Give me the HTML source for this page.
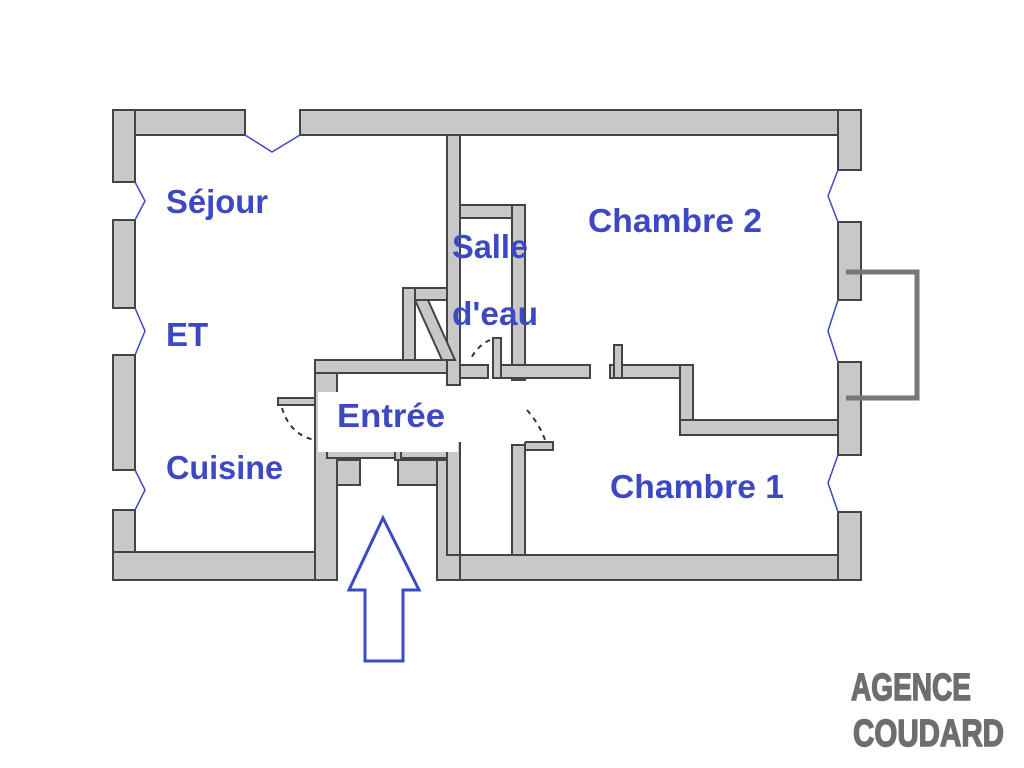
<!DOCTYPE html>
<html><head><meta charset="utf-8"><style>
html,body{margin:0;padding:0;background:#fff;width:1024px;height:768px;overflow:hidden}
svg{display:block}
.w{fill:#c8c8c8;stroke:#444;stroke-width:2}
.l{font-family:"Liberation Sans",sans-serif;font-weight:bold;fill:#3d48c4;font-size:33px}
.g{font-family:"Liberation Sans",sans-serif;font-weight:bold;fill:#6e6e6e;font-size:38px;stroke:#6e6e6e;stroke-width:1.5}
.a{fill:none;stroke:#3d48c4;stroke-width:1.5}
</style></head><body>
<svg width="1024" height="768" viewBox="0 0 1024 768">
<!-- outer walls -->
<rect class="w" x="113" y="110" width="132" height="25"/>
<rect class="w" x="300" y="110" width="561" height="25"/>
<rect class="w" x="113" y="110" width="22" height="72"/>
<rect class="w" x="113" y="220" width="22" height="88"/>
<rect class="w" x="113" y="355" width="22" height="115"/>
<rect class="w" x="113" y="510" width="22" height="70"/>
<rect class="w" x="113" y="552" width="224" height="28"/>
<rect class="w" x="315" y="360" width="22" height="220"/>
<rect class="w" x="437" y="555" width="424" height="25"/>
<rect class="w" x="437" y="460" width="23" height="120"/>
<rect class="w" x="337" y="460" width="23" height="25"/>
<rect class="w" x="398" y="460" width="39" height="25"/>
<rect class="w" x="838" y="110" width="23" height="60"/>
<rect class="w" x="838" y="222" width="23" height="78"/>
<rect class="w" x="838" y="362" width="23" height="93"/>
<rect class="w" x="838" y="512" width="23" height="68"/>
<!-- balcony -->
<path d="M846 272 H917 V398 H846" fill="none" stroke="#777" stroke-width="5"/>
<!-- interior walls -->
<rect class="w" x="447" y="135" width="13" height="250"/>
<rect class="w" x="447" y="430" width="13" height="125"/>
<rect class="w" x="460" y="205" width="65" height="13"/>
<rect class="w" x="512" y="205" width="13" height="175"/>
<rect class="w" x="512" y="445" width="13" height="110"/>
<rect class="w" x="403" y="288" width="44" height="12"/>
<rect class="w" x="403" y="288" width="12" height="75"/>
<polygon points="415,300 428,300 455,360 442,360" fill="#c8c8c8" stroke="#444" stroke-width="2"/>
<rect class="w" x="315" y="360" width="132" height="13"/>
<rect class="w" x="460" y="365" width="28" height="13"/>
<rect class="w" x="500" y="365" width="90" height="13"/>
<rect class="w" x="610" y="365" width="82" height="13"/>
<rect class="w" x="680" y="365" width="13" height="70"/>
<rect class="w" x="680" y="420" width="158" height="15"/>
<rect class="w" x="493" y="338" width="8" height="40"/>
<rect class="w" x="614" y="345" width="8" height="33"/>
<rect class="w" x="278" y="398" width="37" height="7"/>
<rect class="w" x="525" y="442" width="28" height="8"/>
<rect class="w" x="327" y="445" width="120" height="13"/>
<rect class="w" x="395" y="425" width="6" height="35"/>
<!-- white label bg -->
<rect x="318" y="392" width="140" height="60" fill="#fff"/>
<rect x="449" y="392" width="76" height="50" fill="#fff"/>
<!-- door arcs -->
<path d="M282 408 Q290 435 315 440" fill="none" stroke="#333" stroke-width="2" stroke-dasharray="5,5"/>
<path d="M527 410 Q540 425 545 440" fill="none" stroke="#333" stroke-width="2" stroke-dasharray="5,5"/>
<path d="M490 340 Q478 345 470 360" fill="none" stroke="#333" stroke-width="2" stroke-dasharray="5,5"/>
<path class="a" d="M245 135 L272 152 L300 135"/>
<path class="a" d="M135 182 L145 201 L135 220"/>
<path class="a" d="M135 308 L145 331 L135 355"/>
<path class="a" d="M135 470 L145 490 L135 510"/>
<path class="a" d="M838 170 L828 196 L838 222"/>
<path class="a" d="M838 300 L828 331 L838 362"/>
<path class="a" d="M838 455 L828 483 L838 512"/>
<!-- labels -->
<text class="l" x="166" y="213" textLength="102" lengthAdjust="spacingAndGlyphs">Séjour</text>
<text class="l" x="166" y="346">ET</text>
<text class="l" x="166" y="479" textLength="117" lengthAdjust="spacingAndGlyphs">Cuisine</text>
<text class="l" x="452" y="258" textLength="76" lengthAdjust="spacingAndGlyphs">Salle</text>
<text class="l" x="452" y="325" textLength="86" lengthAdjust="spacingAndGlyphs">d'eau</text>
<text class="l" x="588" y="232" textLength="174" lengthAdjust="spacingAndGlyphs">Chambre 2</text>
<text class="l" x="337" y="427" textLength="108" lengthAdjust="spacingAndGlyphs">Entrée</text>
<text class="l" x="610" y="498" textLength="174" lengthAdjust="spacingAndGlyphs">Chambre 1</text>
<!-- arrow -->
<polygon points="383,518 349,590 365,590 365,661 403,661 403,590 419,590" fill="none" stroke="#3d48c4" stroke-width="3"/>
<text class="g" x="851" y="700" textLength="120" lengthAdjust="spacingAndGlyphs">AGENCE</text>
<text class="g" x="853" y="746" textLength="151" lengthAdjust="spacingAndGlyphs">COUDARD</text>
</svg>
</body></html>
